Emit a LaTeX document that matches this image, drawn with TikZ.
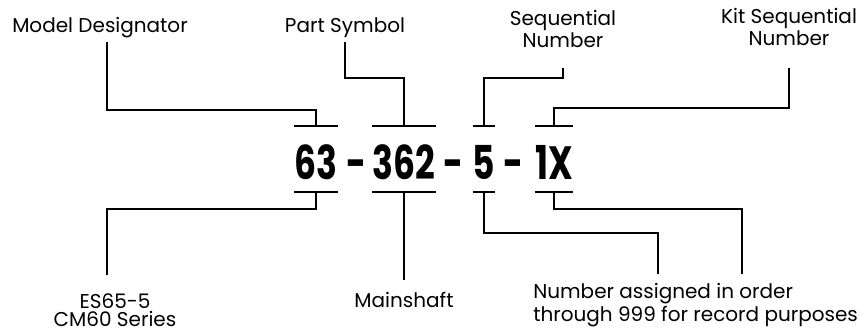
\documentclass[tikz,border=0pt]{standalone}
\usepackage{fontspec}
\setmainfont{Poppins}
\newfontfamily\numfont[FakeStretch=0.74]{Poppins}
\begin{document}
\begin{tikzpicture}[x=0.75pt,y=-0.75pt,
    lbl/.style={font=\fontsize{15}{12.5}\selectfont, align=center, inner sep=0pt, anchor=base},
    part/.style={font=\numfont\bfseries\fontsize{35}{35}\selectfont, inner sep=0pt, anchor=base},
    bar/.style={line width=1.5pt},
    lead/.style={line width=0.9pt}]
    \useasboundingbox (0,0) rectangle (863,333);
    % the part number
    \node[part] (p63) at (316,179) {63};
    \node[part] (d1) at (357,179) {-};
    \node[part] (p362) at (404,179) {362};
    \node[part] (d2) at (454,179) {-};
    \node[part] (p5) at (484,179) {5};
    \node[part] (d3) at (514,179) {-};
    \node[part] (p1X) at (554,179) {1X};
    \foreach \p in {63,362,5,1X} {
        \coordinate (t\p) at (p\p |- 0,126);
        \coordinate (b\p) at (p\p |- 0,192);
        \draw[bar] (p\p.west |- t\p) -- (p\p.east |- t\p);
        \draw[bar] (p\p.west |- b\p) -- (p\p.east |- b\p);
    }
    % labels above
    \node[lbl] (md) at (100,32) {Model Designator};
    \node[lbl] (ps) at (345,32) {Part Symbol};
    \node[lbl] (sn) at (563,47) {Sequential\\Number};
    \node[lbl] (ks) at (789,45) {Kit Sequential\\Number};
    % labels below
    \node[lbl, font=\fontsize{15}{13}\selectfont] (es) at (115,326) {ES65-5\\CM60 Series};
    \node[lbl] (ms) at (404,307) {Mainshaft};
    \node[lbl, align=left, anchor=base west] (na) at (533,321) {Number assigned in order\\through 999 for record purposes};
    % leaders
    \draw[lead] (md.base) ++(7,10) -- ++(0,68) -| (t63);
    \draw[lead] (ps.base) ++(0,10) -- ++(0,36) -| (t362);
    \draw[lead] (sn.base) ++(0,21) -- ++(0,10) -| (t5);
    \draw[lead] (ks.base) ++(0,23) -- ++(0,40) -| (t1X);
    \draw[lead] (b63) -- ++(0,17) -| ([shift={(-8,-51)}]es.base);
    \draw[lead] (b362) -- ([yshift=8.25pt]ms.north);
    \draw[lead] (b5) -- ++(0,41) -| ([shift={(125,-47)}]na.base west);
    \draw[lead] (b1X) -- ++(0,17) -| ([shift={(209,-47)}]na.base west);
\end{tikzpicture}
\end{document}
